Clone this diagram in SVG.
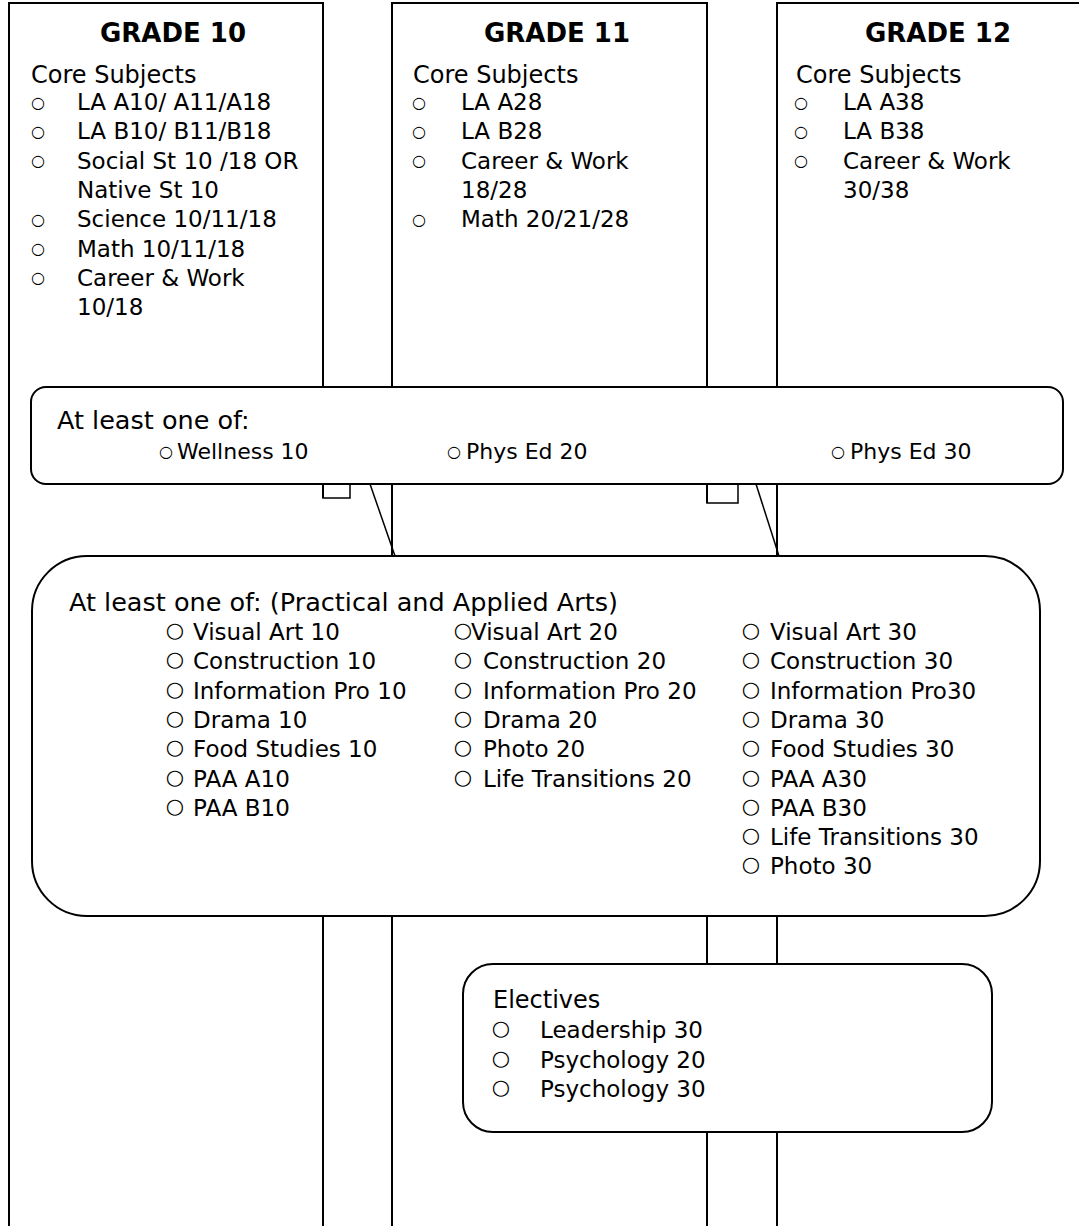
<svg xmlns="http://www.w3.org/2000/svg" width="1079" height="1226" viewBox="0 0 1079 1226">
<style>
  .col { fill: none; stroke: #000; stroke-width: 2; }
  .box { fill: #fff; stroke: #000; stroke-width: 2; }
  .ln { fill: none; stroke: #000; stroke-width: 1.5; }
  text { font-family: "DejaVu Sans", sans-serif; font-size: 23px; fill: #000; }
  .h { font-weight: bold; font-size: 26px; text-anchor: middle; }
  .t { font-size: 24px; }
  .tl { font-size: 25.5px; }
  .w { font-size: 22px; }
  .b { font-size: 16px; text-anchor: middle; }
  .bl { font-size: 21px; text-anchor: middle; }
</style>
<rect width="1079" height="1226" fill="#fff"/>

<g id="grade10">
  <path class="col" d="M9,1240 V3 H323 V498 M323,916 V1240"/>
  <text class="h" x="173" y="42">GRADE 10</text>
  <text class="t" x="31" y="83">Core Subjects</text>
  <text class="b" x="38" y="107.5">○</text><text x="77" y="110">LA A10/ A11/A18</text>
  <text class="b" x="38" y="136.8">○</text><text x="77" y="139.3">LA B10/ B11/B18</text>
  <text class="b" x="38" y="166.1">○</text><text x="77" y="168.6">Social St 10 /18 OR</text>
  <text x="77" y="198">Native St 10</text>
  <text class="b" x="38" y="224.7">○</text><text x="77" y="227.2">Science 10/11/18</text>
  <text class="b" x="38" y="254">○</text><text x="77" y="256.5">Math 10/11/18</text>
  <text class="b" x="38" y="283.3">○</text><text x="77" y="285.8">Career &amp; Work</text>
  <text x="77" y="315">10/18</text>
</g>

<g id="grade11">
  <path class="col" d="M392,1240 V3 H707 V503 M707,916 V1240"/>
  <text class="h" x="557" y="42">GRADE 11</text>
  <text class="t" x="413" y="83">Core Subjects</text>
  <text class="b" x="419" y="107.5">○</text><text x="461" y="110">LA A28</text>
  <text class="b" x="419" y="136.8">○</text><text x="461" y="139.3">LA B28</text>
  <text class="b" x="419" y="166.1">○</text><text x="461" y="168.6">Career &amp; Work</text>
  <text x="461" y="198">18/28</text>
  <text class="b" x="419" y="224.7">○</text><text x="461" y="227.2">Math 20/21/28</text>
</g>

<g id="grade12">
  <path class="col" d="M777,1240 V3 H1090"/>
  <text class="h" x="938" y="42">GRADE 12</text>
  <text class="t" x="796" y="83">Core Subjects</text>
  <text class="b" x="801" y="107.5">○</text><text x="843" y="110">LA A38</text>
  <text class="b" x="801" y="136.8">○</text><text x="843" y="139.3">LA B38</text>
  <text class="b" x="801" y="166.1">○</text><text x="843" y="168.6">Career &amp; Work</text>
  <text x="843" y="198">30/38</text>
</g>

<g id="connectors">
  <path class="ln" d="M323,484 V498 H350 V484"/>
  <path class="ln" d="M370,484 L395,556"/>
  <path class="ln" d="M707,484 V503 H738 V484"/>
  <path class="ln" d="M756,484 L779,556"/>
</g>

<g id="wellness">
  <rect class="box" x="31" y="387" width="1032" height="97" rx="15"/>
  <text class="tl" x="57" y="429">At least one of:</text>
  <text class="b" x="166" y="456.5">○</text><text class="w" x="177" y="459">Wellness 10</text>
  <text class="b" x="454" y="456.5">○</text><text class="w" x="466" y="459">Phys Ed 20</text>
  <text class="b" x="838" y="456.5">○</text><text class="w" x="850" y="459">Phys Ed 30</text>
</g>

<g id="paa">
  <rect class="box" x="32" y="556" width="1008" height="360" rx="55"/>
  <text class="tl" x="69" y="611">At least one of: (Practical and Applied Arts)</text>
  <g>
    <text class="bl" x="175" y="637">○</text><text x="193" y="640">Visual Art 10</text>
    <text class="bl" x="175" y="666.3">○</text><text x="193" y="669.3">Construction 10</text>
    <text class="bl" x="175" y="695.6">○</text><text x="193" y="698.6">Information Pro 10</text>
    <text class="bl" x="175" y="724.9">○</text><text x="193" y="727.9">Drama 10</text>
    <text class="bl" x="175" y="754.2">○</text><text x="193" y="757.2">Food Studies 10</text>
    <text class="bl" x="175" y="783.5">○</text><text x="193" y="786.5">PAA A10</text>
    <text class="bl" x="175" y="812.8">○</text><text x="193" y="815.8">PAA B10</text>
  </g>
  <g>
    <text class="bl" x="463" y="637">○</text><text x="471" y="640">Visual Art 20</text>
    <text class="bl" x="463" y="666.3">○</text><text x="483" y="669.3">Construction 20</text>
    <text class="bl" x="463" y="695.6">○</text><text x="483" y="698.6">Information Pro 20</text>
    <text class="bl" x="463" y="724.9">○</text><text x="483" y="727.9">Drama 20</text>
    <text class="bl" x="463" y="754.2">○</text><text x="483" y="757.2">Photo 20</text>
    <text class="bl" x="463" y="783.5">○</text><text x="483" y="786.5">Life Transitions 20</text>
  </g>
  <g>
    <text class="bl" x="751" y="637">○</text><text x="770" y="640">Visual Art 30</text>
    <text class="bl" x="751" y="666.3">○</text><text x="770" y="669.3">Construction 30</text>
    <text class="bl" x="751" y="695.6">○</text><text x="770" y="698.6">Information Pro30</text>
    <text class="bl" x="751" y="724.9">○</text><text x="770" y="727.9">Drama 30</text>
    <text class="bl" x="751" y="754.2">○</text><text x="770" y="757.2">Food Studies 30</text>
    <text class="bl" x="751" y="783.5">○</text><text x="770" y="786.5">PAA A30</text>
    <text class="bl" x="751" y="812.8">○</text><text x="770" y="815.8">PAA B30</text>
    <text class="bl" x="751" y="842.1">○</text><text x="770" y="845.1">Life Transitions 30</text>
    <text class="bl" x="751" y="871.4">○</text><text x="770" y="874.4">Photo 30</text>
  </g>
</g>

<g id="electives">
  <rect class="box" x="463" y="964" width="529" height="168" rx="30"/>
  <text class="t" x="493" y="1008">Electives</text>
  <text class="bl" x="501" y="1035">○</text><text x="540" y="1038">Leadership 30</text>
  <text class="bl" x="501" y="1064.5">○</text><text x="540" y="1067.5">Psychology 20</text>
  <text class="bl" x="501" y="1094">○</text><text x="540" y="1097">Psychology 30</text>
</g>
</svg>
